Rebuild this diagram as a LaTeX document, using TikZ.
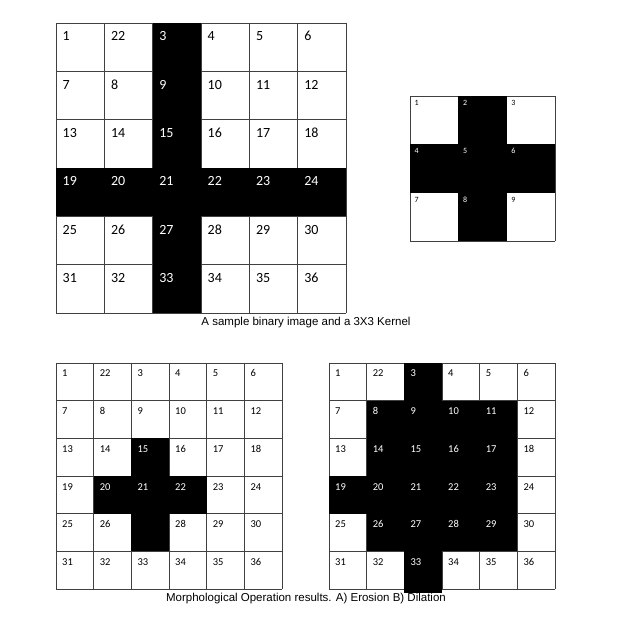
\documentclass[tikz,border=0pt]{standalone}
\usepackage{fontspec}
\setmainfont{Liberation Sans}
\newfontfamily\cellfont{Carlito}
\colorlet{cb}{black}
\colorlet{cw}{white}
\tikzset{
  cellline/.style={draw=black!75, line width=0.8pt},
  bigl/.style={font=\cellfont\fontsize{14}{16}\selectfont, anchor=base west, inner sep=0pt},
  kerl/.style={font=\cellfont\fontsize{8}{9}\selectfont, anchor=base west, inner sep=0pt},
  smal/.style={font=\cellfont\fontsize{10.5}{12}\selectfont, anchor=base west, inner sep=0pt},
  capt/.style={font=\fontsize{11.5}{13}\selectfont, anchor=base, inner sep=0pt},
}
\begin{document}
\begin{tikzpicture}[x=1pt,y=-1pt]
\useasboundingbox[fill=white] (0,0) rectangle (625,620);
% ---------- top grid ----------
\def\ts{48.33}
\foreach \i in {0,...,6}{
  \draw[cellline] ({56+\i*\ts},23) -- ({56+\i*\ts},313);
  \draw[cellline] (56,{23+\i*\ts}) -- (346,{23+\i*\ts});
}
\fill[black] ({56+2*\ts},23) rectangle ({56+3*\ts},313);
\fill[black] (56,{23+3*\ts}) rectangle (346,{23+4*\ts});
\foreach \lab/\c [count=\k from 0] in {1/cb,22/cb,3/cw,4/cb,5/cb,6/cb,
  7/cb,8/cb,9/cw,10/cb,11/cb,12/cb,
  13/cb,14/cb,15/cw,16/cb,17/cb,18/cb,
  19/cw,20/cw,21/cw,22/cw,23/cw,24/cw,
  25/cb,26/cb,27/cw,28/cb,29/cb,30/cb,
  31/cb,32/cb,33/cw,34/cb,35/cb,36/cb}{
  \pgfmathtruncatemacro\r{\k/6}
  \pgfmathtruncatemacro\cc{mod(\k,6)}
  \node[bigl, text=\c] (a\k) at ({56+\cc*\ts+6.5},{23+\r*\ts+18}) {\lab};
}
% ---------- kernel ----------
\def\ks{48.33}
\foreach \i in {0,...,3}{
  \draw[cellline] ({410+\i*\ks},96) -- ({410+\i*\ks},241);
  \draw[cellline] (410,{96+\i*\ks}) -- (555,{96+\i*\ks});
}
\fill[black] ({410+\ks},96) rectangle ({410+2*\ks},241);
\fill[black] (410,{96+\ks}) rectangle (555,{96+2*\ks});
\foreach \lab/\c [count=\k from 0] in {1/cb,2/cw,3/cb,4/cw,5/cw,6/cw,7/cb,8/cw,9/cb}{
  \pgfmathtruncatemacro\r{\k/3}
  \pgfmathtruncatemacro\cc{mod(\k,3)}
  \node[kerl, text=\c] (k\k) at ({410+\cc*\ks+4.5},{96+\r*\ks+9.5}) {\lab};
}
\node[capt] (cap1) at (306,326) {A sample binary image and a 3X3 Kernel};
% ---------- erosion ----------
\def\bs{37.67}
\foreach \i in {0,...,6}{
  \draw[cellline] ({56+\i*\bs},363) -- ({56+\i*\bs},589);
  \draw[cellline] (56,{363+\i*\bs}) -- (282,{363+\i*\bs});
}
\fill[black] ({56+2*\bs},{363+2*\bs}) rectangle ({56+3*\bs},{363+5*\bs});
\fill[black] ({56+\bs},{363+3*\bs}) rectangle ({56+4*\bs},{363+4*\bs});
\foreach \lab/\c [count=\k from 0] in {1/cb,22/cb,3/cb,4/cb,5/cb,6/cb,
  7/cb,8/cb,9/cb,10/cb,11/cb,12/cb,
  13/cb,14/cb,15/cw,16/cb,17/cb,18/cb,
  19/cb,20/cw,21/cw,22/cw,23/cb,24/cb,
  25/cb,26/cb,{}/cw,28/cb,29/cb,30/cb,
  31/cb,32/cb,33/cb,34/cb,35/cb,36/cb}{
  \pgfmathtruncatemacro\r{\k/6}
  \pgfmathtruncatemacro\cc{mod(\k,6)}
  \node[smal, text=\c] (e\k) at ({56+\cc*\bs+6},{363+\r*\bs+14}) {\lab};
}
% ---------- dilation ----------
\foreach \i in {0,...,6}{
  \draw[cellline] ({329+\i*\bs},363) -- ({329+\i*\bs},589);
  \draw[cellline] (329,{363+\i*\bs}) -- (555,{363+\i*\bs});
}
\fill[black] ({329+2*\bs},363) rectangle ({329+3*\bs},593);
\fill[black] ({329+\bs},{363+\bs}) rectangle ({329+5*\bs},{363+5*\bs});
\fill[black] (329,{363+3*\bs}) rectangle ({329+5*\bs},{363+4*\bs});
\foreach \lab/\c [count=\k from 0] in {1/cb,22/cb,3/cw,4/cb,5/cb,6/cb,
  7/cb,8/cw,9/cw,10/cw,11/cw,12/cb,
  13/cb,14/cw,15/cw,16/cw,17/cw,18/cb,
  19/cw,20/cw,21/cw,22/cw,23/cw,24/cb,
  25/cb,26/cw,27/cw,28/cw,29/cw,30/cb,
  31/cb,32/cb,33/cw,34/cb,35/cb,36/cb}{
  \pgfmathtruncatemacro\r{\k/6}
  \pgfmathtruncatemacro\cc{mod(\k,6)}
  \node[smal, text=\c] (d\k) at ({329+\cc*\bs+6},{363+\r*\bs+14}) {\lab};
}
\node[capt] (cap2) at (306,602) {Morphological Operation results. A) Erosion B) Dilation};
\end{tikzpicture}
\end{document}
